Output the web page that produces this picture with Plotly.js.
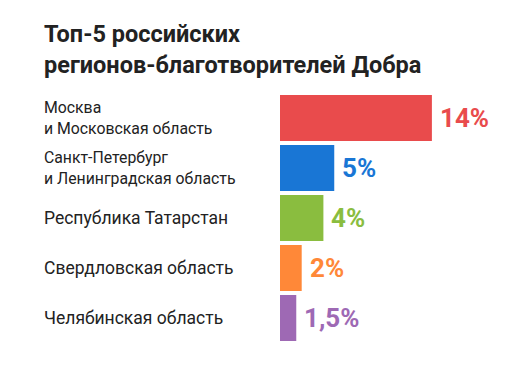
<!DOCTYPE html>
<html>
<head>
<meta charset="utf-8">
<script src="https://cdn.plot.ly/plotly-3.0.1.min.js"></script>
<style>
html,body{margin:0;padding:0;background:#fff;}
#chart{width:507px;height:384px;}
</style>
</head>
<body>
<div id="chart"></div>
<script>
const categories = [
  "Москва<br>и Московская область",
  "Санкт-Петербург<br>и Ленинградская область",
  "Республика Татарстан",
  "Свердловская область",
  "Челябинская область"
];
const values = [14, 5, 4, 2, 1.5];
const valueLabels = ["14%", "5%", "4%", "2%", "1,5%"];
const colors = ["#E94B4C", "#1976D5", "#8ABD3F", "#FF8838", "#9E69B4"];
const titleText = "Топ-5 российских<br>регионов-благотворителей Добра";

const W = 507, H = 384;
const mL = 280, mR = 10, mT = 93, mB = 41;
const labelLeft = 44;

const trace = {
  type: "bar",
  orientation: "h",
  x: values,
  y: categories,
  marker: {color: colors},
  hoverinfo: "skip",
  showlegend: false
};

const annotations = [];
categories.forEach((c, i) => {
  const twoLine = c.indexOf("<br>") >= 0;
  annotations.push({
    xref: "paper", yref: "y",
    x: 0, y: c,
    xshift: labelLeft - mL - 2,
    xanchor: "left", yanchor: "middle",
    align: "left",
    text: c,
    showarrow: false,
    font: {family: "Roboto", size: twoLine ? 15.8 : 17.5, color: "#222222"}
  });
  annotations.push({
    xref: "x", yref: "y",
    x: values[i], y: c,
    xshift: 6,
    xanchor: "left", yanchor: "middle",
    text: valueLabels[i],
    showarrow: false,
    font: {family: "Roboto", size: 26, color: colors[i], weight: 700}
  });
});

const layout = {
  width: W, height: H,
  margin: {l: mL, r: mR, t: mT, b: mB, pad: 0},
  paper_bgcolor: "#ffffff",
  plot_bgcolor: "#ffffff",
  bargap: 0.08,
  title: {
    text: titleText,
    xref: "container", yref: "container",
    x: labelLeft / W, xanchor: "left",
    y: 1 - 42 / H, yanchor: "top",
    font: {family: "Roboto", size: 23.5, color: "#222222", weight: 700}
  },
  xaxis: {range: [0, 20], visible: false, showgrid: false, zeroline: false, fixedrange: true},
  yaxis: {range: [4.5, -0.5], type: "category", visible: false, showgrid: false, zeroline: false, fixedrange: true},
  annotations: annotations,
  hovermode: false
};

Plotly.newPlot("chart", [trace], layout, {displayModeBar: false, staticPlot: true});
</script>
</body>
</html>
